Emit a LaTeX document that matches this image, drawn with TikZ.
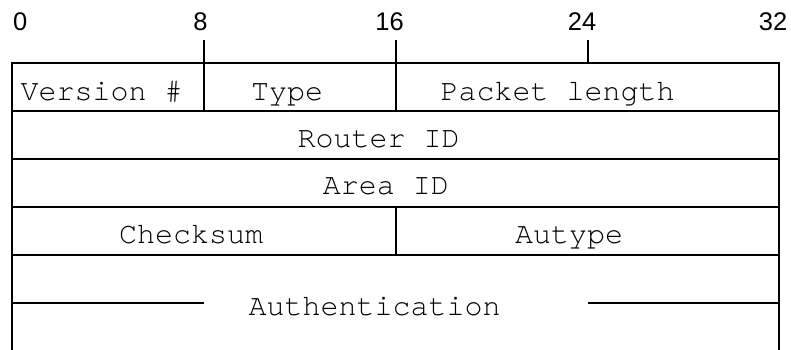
\documentclass[tikz,border=0pt]{standalone}
\usepackage{fontspec}
\newfontfamily\cellfont{TeX Gyre Cursor}
\newfontfamily\numfont{Liberation Sans}
\begin{document}
\begin{tikzpicture}[x=1pt,y=-1pt,
  frame/.style={line width=1.3pt,black},
  celltext/.style={inner sep=0pt,anchor=base,font=\cellfont\fontsize{30}{36}\selectfont},
  bittext/.style={inner sep=0pt,anchor=base,font=\numfont\fontsize{25.5}{30}\selectfont}]
\useasboundingbox (0,0) rectangle (791,350);
% bit scale
\node[bittext] (b0) at (20.3,30.7) {0};
\node[bittext] (b8) at (200.5,30.7) {8};
\node[bittext] (b16) at (389.5,30.7) {16};
\node[bittext] (b24) at (582,30.7) {24};
\node[bittext] (b32) at (773,30.7) {32};
% ticks
\draw[frame] (204,40) -- (204,63);
\draw[frame] (396,40) -- (396,63);
\draw[frame] (588,40) -- (588,63);
% outer sides
\draw[frame] (12,350) -- (12,63) -- (779,63) -- (779,350);
% row lines
\foreach \y in {111,159,207,255} \draw[frame] (12,\y) -- (779,\y);
% inner verticals
\draw[frame] (204,63) -- (204,111);
\draw[frame] (396,63) -- (396,111);
\draw[frame] (396,207) -- (396,255);
% authentication lines
\draw[frame] (12,303) -- (204,303);
\draw[frame] (588,303) -- (779,303);
% texts
\node[celltext] (ver) at (101.7,100) {Version \#};
\node[celltext] (typ) at (287,100) {Type};
\node[celltext] (len) at (557.5,100) {Packet length};
\node[celltext] (rid) at (378.5,147.5) {Router ID};
\node[celltext] (aid) at (385.8,194.5) {Area ID};
\node[celltext] (chk) at (191.2,243.3) {Checksum};
\node[celltext] (aut) at (569,243.3) {Autype};
\node[celltext] (auth) at (374.7,315.5) {Authentication};
\end{tikzpicture}
\end{document}
